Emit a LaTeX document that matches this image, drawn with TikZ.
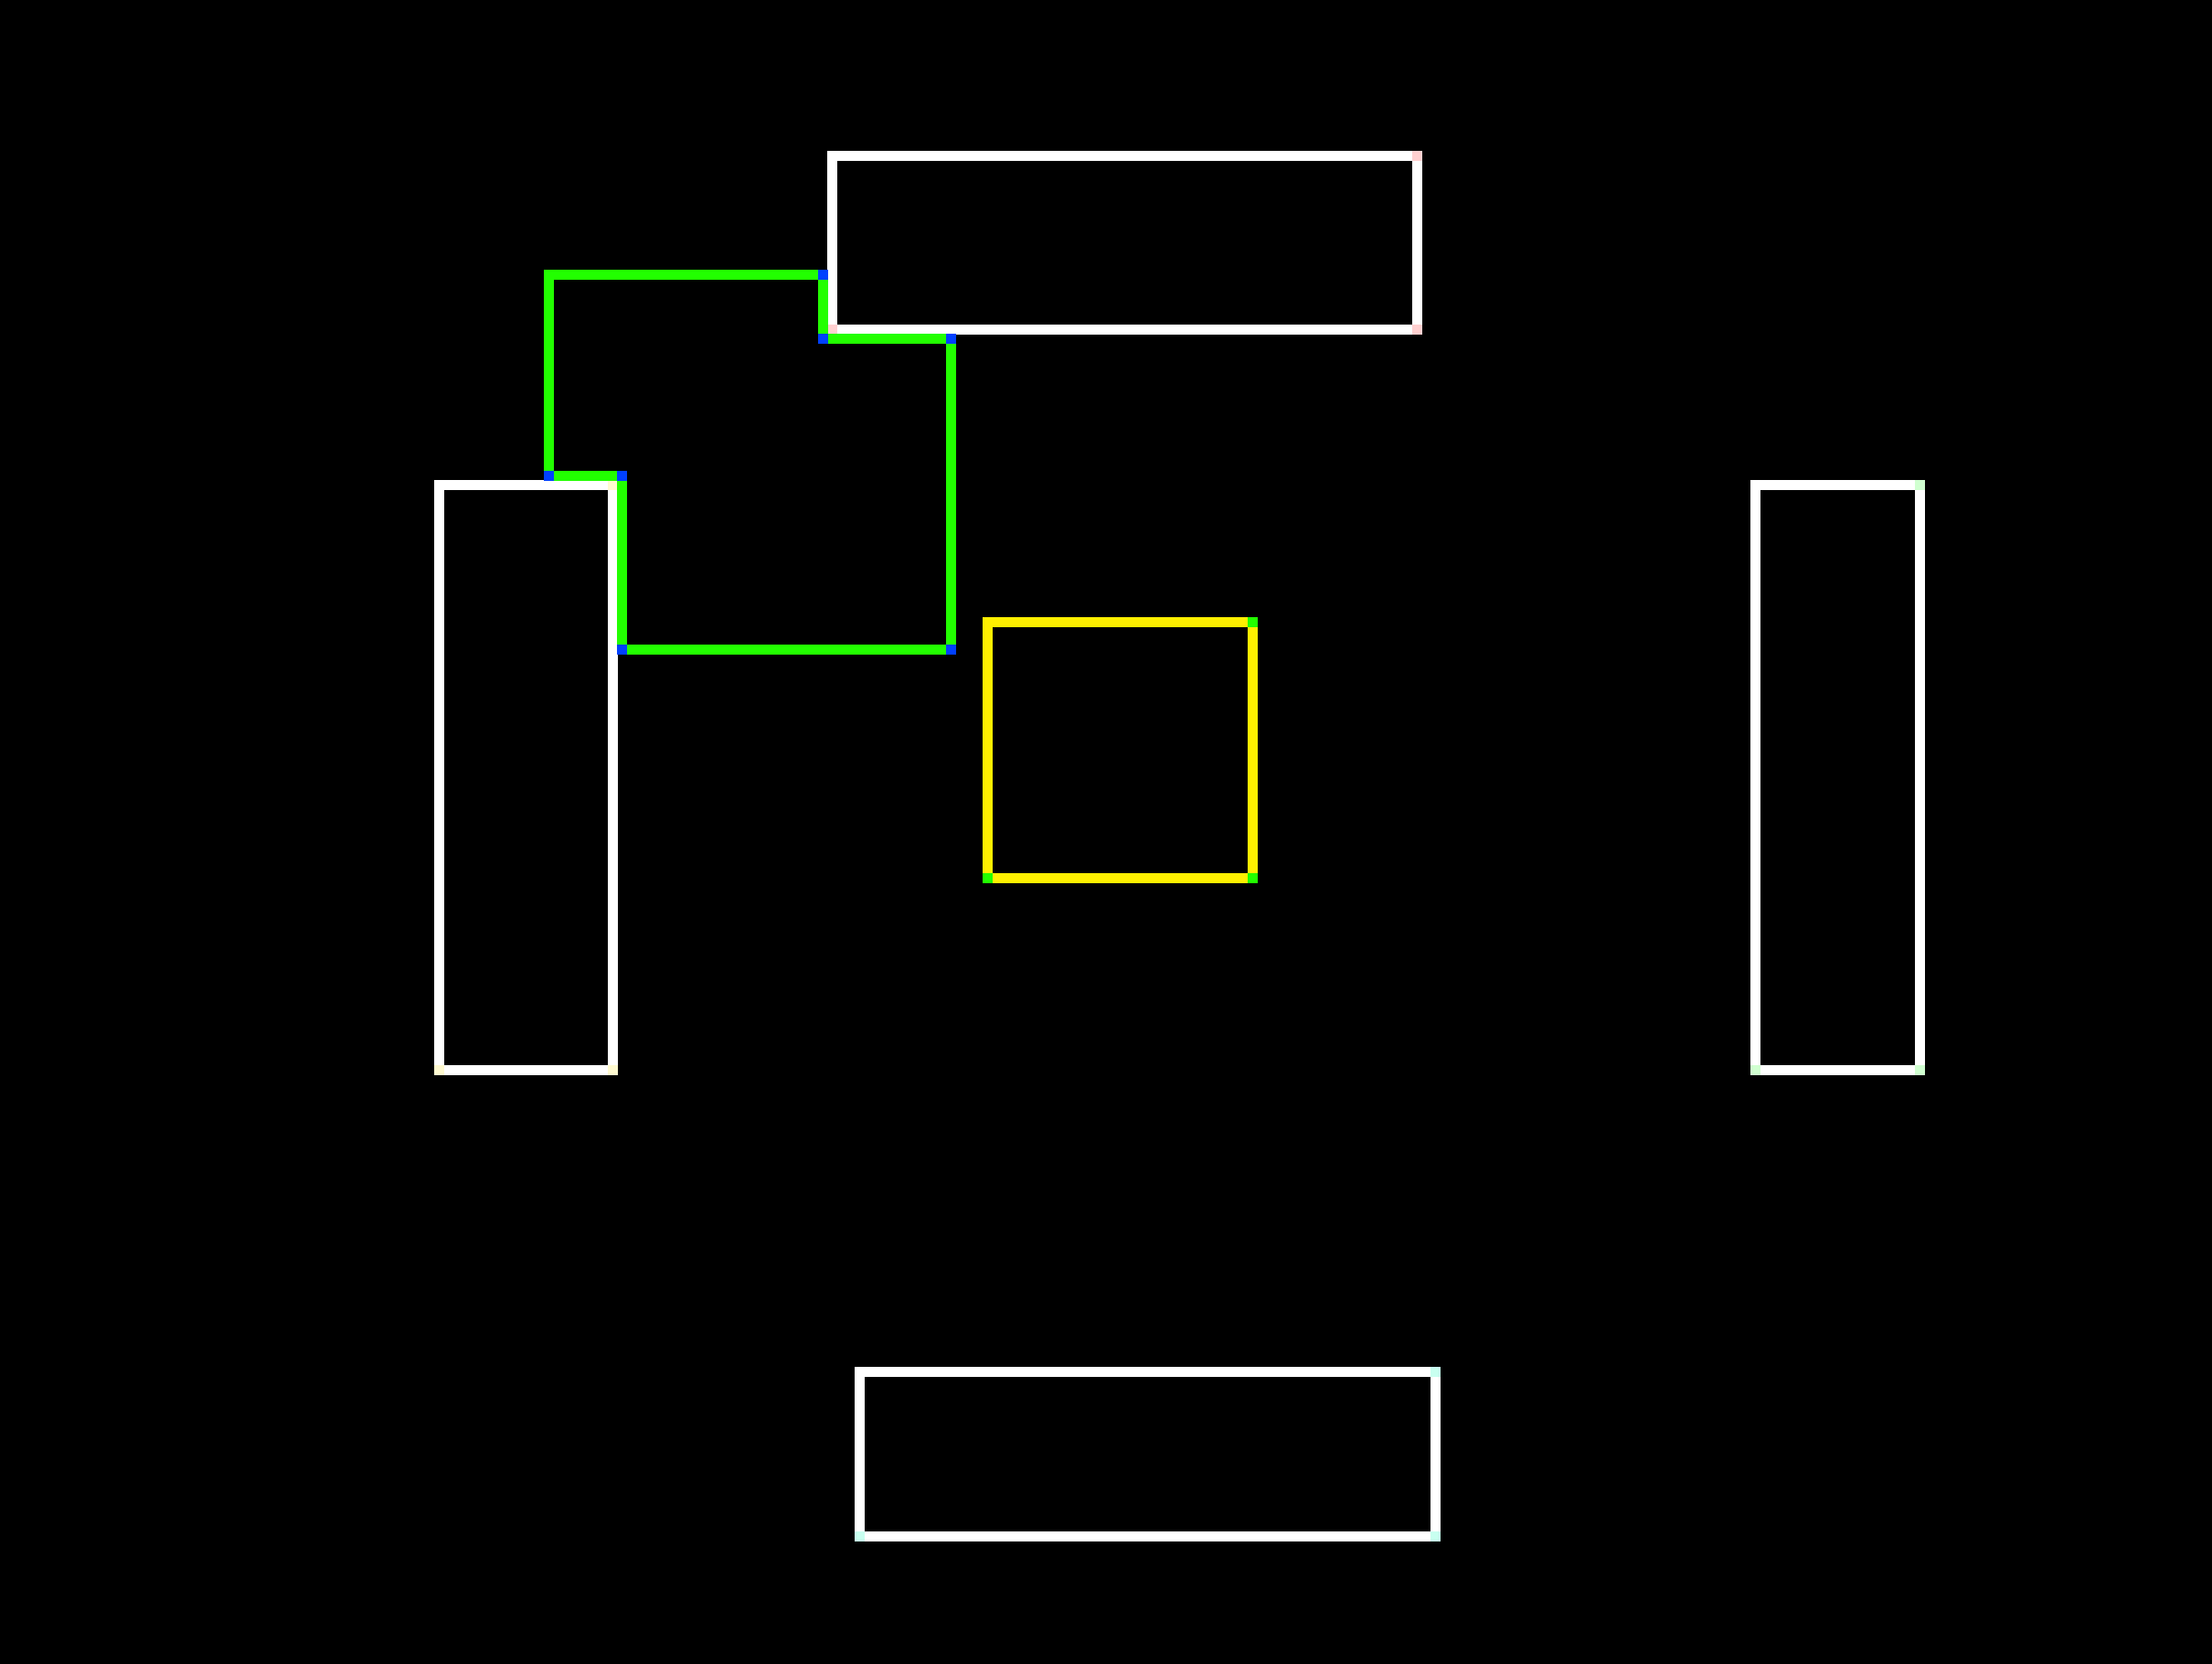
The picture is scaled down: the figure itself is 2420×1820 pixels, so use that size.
\documentclass[tikz,border=0pt]{standalone}
\usetikzlibrary{calc}
\definecolor{gline}{RGB}{34,255,0}
\definecolor{yline}{RGB}{255,240,0}
\definecolor{bmark}{RGB}{0,64,255}
\definecolor{pinkc}{RGB}{255,208,208}
\definecolor{lgreenc}{RGB}{208,255,208}
\definecolor{cyanc}{RGB}{200,255,240}
\definecolor{lyelc}{RGB}{255,250,208}
\newcommand{\csq}[2]{\fill[#1] ([shift={(-5.5,-5.5)}]#2) rectangle ++(11,11);}
\begin{document}
\begin{tikzpicture}[x=0.5pt,y=-0.5pt,
  box/.style={draw=white,line width=5.5pt,inner sep=0pt,outer sep=0pt,line join=miter,rectangle},
  ybox/.style={box,draw=yline},
  conn/.style={draw=gline,line width=5.5pt,line join=miter}]
\fill[black] (0,0) rectangle (2420,1820);
\useasboundingbox (0,0) rectangle (2420,1820);
% boxes
\node[box,minimum width=320pt,minimum height=95pt] (top) at (1230.5,265.5) {};
\node[box,minimum width=95pt,minimum height=320pt] (left) at (575.5,850.5) {};
\node[box,minimum width=90pt,minimum height=320pt] (right) at (2010.5,850.5) {};
\node[ybox,minimum width=145pt,minimum height=140pt] (mid) at (1225.5,820.5) {};
\node[box,minimum width=315pt,minimum height=90pt] (bottom) at (1255.5,1590.5) {};
% corner tints
\csq{pinkc}{top.north east}\csq{pinkc}{top.south east}\csq{pinkc}{top.south west}
\csq{lyelc}{left.north east}\csq{lyelc}{left.south east}\csq{lyelc}{left.south west}
\csq{lgreenc}{right.north east}\csq{lgreenc}{right.south east}\csq{lgreenc}{right.south west}
\csq{gline}{mid.north east}\csq{gline}{mid.south east}\csq{gline}{mid.south west}
\csq{cyanc}{bottom.north east}\csq{cyanc}{bottom.south east}\csq{cyanc}{bottom.south west}
% connector loop
\coordinate (p1) at (900.5,300.5);
\coordinate (p2) at (600.5,300.5);
\coordinate (p3) at (600.5,520.5);
\coordinate (p4) at (680.5,520.5);
\coordinate (p5) at (680.5,710.5);
\coordinate (p6) at (1040.5,710.5);
\coordinate (p7) at (1040.5,370.5);
\coordinate (p8) at (900.5,370.5);
\draw[conn] (p1) -- (p2) -- (p3) -- (p4) -- (p5) -- (p6) -- (p7) -- (p8) -- cycle;
\foreach \p in {p1,p3,p4,p5,p6,p7,p8} {\csq{bmark}{\p}}
\end{tikzpicture}
\end{document}
